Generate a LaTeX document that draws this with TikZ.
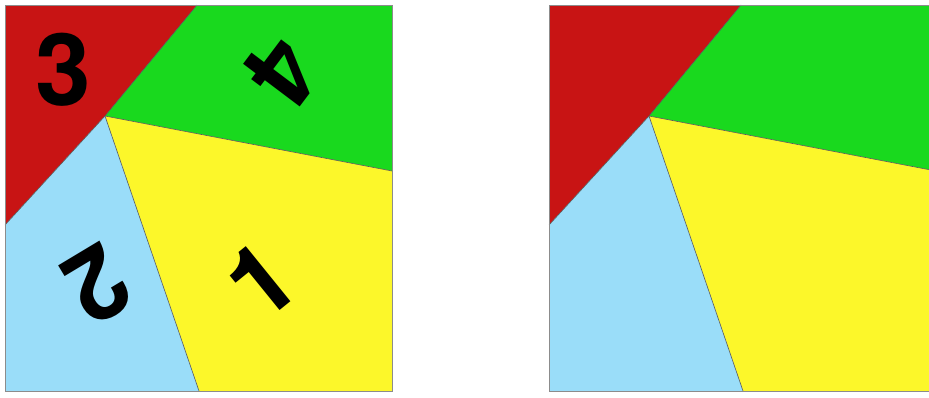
\documentclass[tikz,border=0pt]{standalone}
\usepackage{fontspec}
\setmainfont{TeX Gyre Heros}
\definecolor{pred}{HTML}{C81414}
\definecolor{pgreen}{HTML}{19D91E}
\definecolor{pyellow}{HTML}{FCF72A}
\definecolor{pblue}{HTML}{9ADDF9}
\begin{document}
\begin{tikzpicture}[x=1pt,y=-1pt,
  piece/.style={draw=black!65, line width=0.6pt, line join=round},
  frame/.style={draw=black!45, line width=0.8pt},
  digit/.style={font=\fontsize{100}{100}\selectfont\bfseries, inner sep=0pt, text=black}]
\useasboundingbox (0,0) rectangle (929,397);
\clip (0,0) rectangle (929,397);
\foreach \dx in {0,544}{
\begin{scope}[shift={(\dx,0)}]
  \fill[pred]    (5,5) -- (197,5) -- (105,116) -- (5,225) -- cycle;
  \fill[pgreen]  (197,5) -- (392,5) -- (392,171) -- (105,116) -- cycle;
  \fill[pyellow] (105,116) -- (392,171) -- (392,391) -- (199,391) -- cycle;
  \fill[pblue]   (5,225) -- (105,116) -- (199,391) -- (5,391) -- cycle;
  \draw[piece] (197,5) -- (105,116) -- (5,225);
  \draw[piece] (105,116) -- (392,171);
  \draw[piece] (105,116) -- (199,391);
  \draw[frame] (5,5) rectangle (392,391);
\end{scope}}
\node[digit] (d3) at (63,70) {3};
\node[digit, rotate=-127] (d4) at (282,72) {4};
\node[digit, rotate=211] (d2) at (97,285) {2};
\node[digit, rotate=39] (d1) at (261,280) {1};
\end{tikzpicture}
\end{document}
